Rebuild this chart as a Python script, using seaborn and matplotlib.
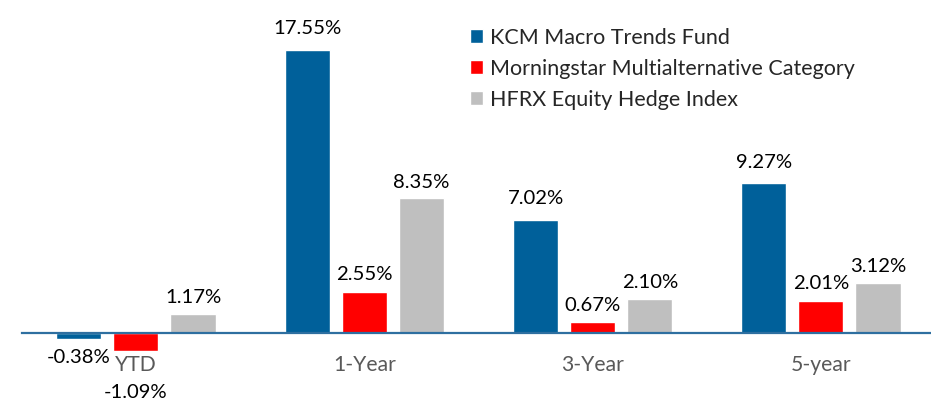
import pandas as pd
import seaborn as sns
import matplotlib.pyplot as plt

categories = ['YTD', '1-Year', '3-Year', '5-year']
series = ['KCM Macro Trends Fund', 'Morningstar Multialternative Category', 'HFRX Equity Hedge Index']
kcm = [-0.38, 17.55, 7.02, 9.27]
morningstar = [-1.09, 2.55, 0.67, 2.01]
hfrx = [1.17, 8.35, 2.10, 3.12]
colors = ['#00609A', '#FF0000', '#BFBFBF']

rows = []
for name, vals in zip(series, [kcm, morningstar, hfrx]):
    for cat, v in zip(categories, vals):
        rows.append({'period': cat, 'series': name, 'value': v})
df = pd.DataFrame(rows)

sns.set_style('white')
plt.rcParams['font.family'] = ['Lato', 'DejaVu Sans']

fig = plt.figure(figsize=(9.31, 4.01), dpi=100)
ax = fig.add_axes([0.0234, 0, 0.981, 1])
sns.barplot(data=df, x='period', y='value', hue='series', palette=colors,
            width=0.75, gap=0.21, saturation=1, ax=ax)

# label padding per series (points)
pads = [9, 6, 5.5]
for cont, pad in zip(ax.containers, pads):
    labels = [f'{b.get_height():.2f}%' for b in cont]
    texts = ax.bar_label(cont, labels=labels, padding=pad, fontsize=14.6, color='black')
    for t, b in zip(texts, cont):
        if b.get_height() < 0:
            t.xyann = (0, -7)
# push the YTD label of the red bar below the tick label
ax.texts[len(categories)].xyann = (0, -24)

ax.set_xlim(-0.5, 3.5)
ax.set_ylim(-4.22, 20.64)
ax.set_yticks([])
ax.set_xlabel('')
ax.set_ylabel('')
for s in ['top', 'right', 'left']:
    ax.spines[s].set_visible(False)
ax.spines['bottom'].set_position(('data', 0))
ax.spines['bottom'].set_color('#2E6FA0')
ax.spines['bottom'].set_linewidth(1.6)
ax.tick_params(axis='x', length=0, pad=16, labelsize=15.2, labelcolor='#595959')

ax.legend(loc='upper left', bbox_to_anchor=(470 / 931, 1 - 28 / 401),
          bbox_transform=fig.transFigure, frameon=False, fontsize=15.5,
          handlelength=0.62, handleheight=0.62, handletextpad=0.3,
          labelspacing=0.5, borderaxespad=0, borderpad=0)

fig.savefig('out.png', dpi=100)
plt.close()
